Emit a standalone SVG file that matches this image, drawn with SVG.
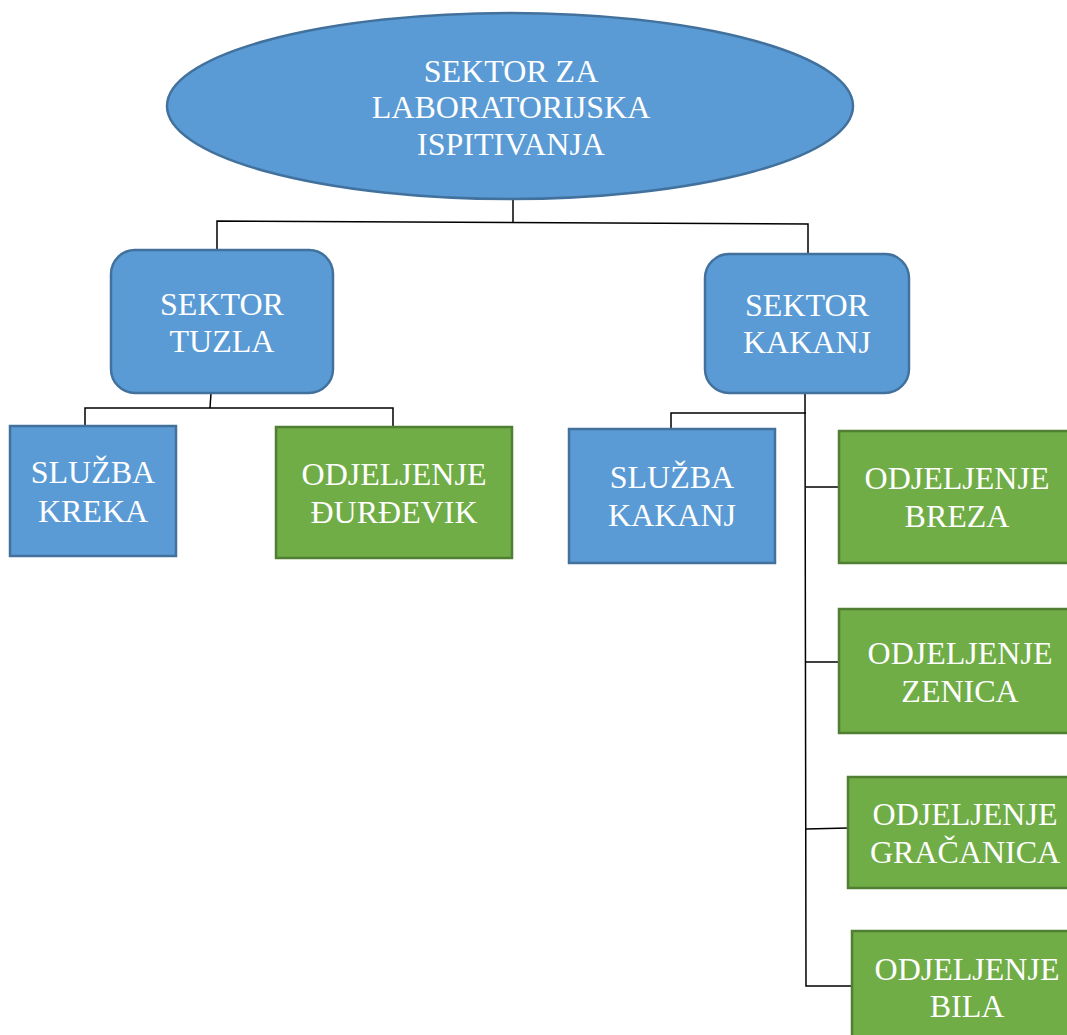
<svg xmlns="http://www.w3.org/2000/svg" width="1067" height="1035" viewBox="0 0 1067 1035">
<style>
.blue{fill:#5B9BD5;stroke:#41719C;stroke-width:2.5}
.green{fill:#70AD47;stroke:#507E32;stroke-width:2.5}
.t{font-family:"Liberation Serif","Times New Roman",serif;font-size:32px;fill:#fff;text-anchor:middle}
.c{fill:none;stroke:#000;stroke-width:1.5}
</style>
<rect width="1067" height="1035" fill="#fff"/>
<g id="connectors">
<polyline class="c" points="513,199 513,222"/>
<polyline class="c" points="217,250 217,221 808,224 808,254"/>
<polyline class="c" points="211,393 210,408"/>
<polyline class="c" points="85,426 85,408 393,408 393,427"/>
<polyline class="c" points="805,393 806,986 852,986"/>
<polyline class="c" points="671,429 671,413 806,413"/>
<polyline class="c" points="806,487 839,487"/>
<polyline class="c" points="806,662 839,662"/>
<polyline class="c" points="806,829 848,828"/>
</g>
<g id="root">
<ellipse class="blue" cx="510" cy="106" rx="343" ry="93"/>
<text class="t" x="511" y="82">SEKTOR ZA</text>
<text class="t" x="511" y="118">LABORATORIJSKA</text>
<text class="t" x="511" y="155">ISPITIVANJA</text>
</g>
<g id="sektor-tuzla">
<rect class="blue" x="111" y="250" width="222" height="143" rx="24"/>
<text class="t" x="222" y="315">SEKTOR</text>
<text class="t" x="222" y="352">TUZLA</text>
</g>
<g id="sektor-kakanj">
<rect class="blue" x="705" y="254" width="204" height="139" rx="24"/>
<text class="t" x="807" y="316">SEKTOR</text>
<text class="t" x="807" y="353">KAKANJ</text>
</g>
<g id="sluzba-kreka">
<rect class="blue" x="10" y="426" width="166" height="130"/>
<text class="t" x="93" y="483">SLUŽBA</text>
<text class="t" x="93" y="522">KREKA</text>
</g>
<g id="odjeljenje-djurdjevik">
<rect class="green" x="276" y="427" width="236" height="131"/>
<text class="t" x="394" y="485">ODJELJENJE</text>
<text class="t" x="394" y="523">ĐURĐEVIK</text>
</g>
<g id="sluzba-kakanj">
<rect class="blue" x="569" y="429" width="206" height="134"/>
<text class="t" x="672" y="488">SLUŽBA</text>
<text class="t" x="672" y="526">KAKANJ</text>
</g>
<g id="odjeljenje-breza">
<rect class="green" x="839" y="431" width="240" height="132"/>
<text class="t" x="957" y="489">ODJELJENJE</text>
<text class="t" x="957" y="527">BREZA</text>
</g>
<g id="odjeljenje-zenica">
<rect class="green" x="839" y="609" width="240" height="124"/>
<text class="t" x="960" y="664">ODJELJENJE</text>
<text class="t" x="960" y="702">ZENICA</text>
</g>
<g id="odjeljenje-gracanica">
<rect class="green" x="848" y="777" width="230" height="111"/>
<text class="t" x="965" y="825">ODJELJENJE</text>
<text class="t" x="965" y="863">GRAČANICA</text>
</g>
<g id="odjeljenje-bila">
<rect class="green" x="852" y="931" width="230" height="120"/>
<text class="t" x="967" y="980">ODJELJENJE</text>
<text class="t" x="967" y="1017">BILA</text>
</g>
</svg>
